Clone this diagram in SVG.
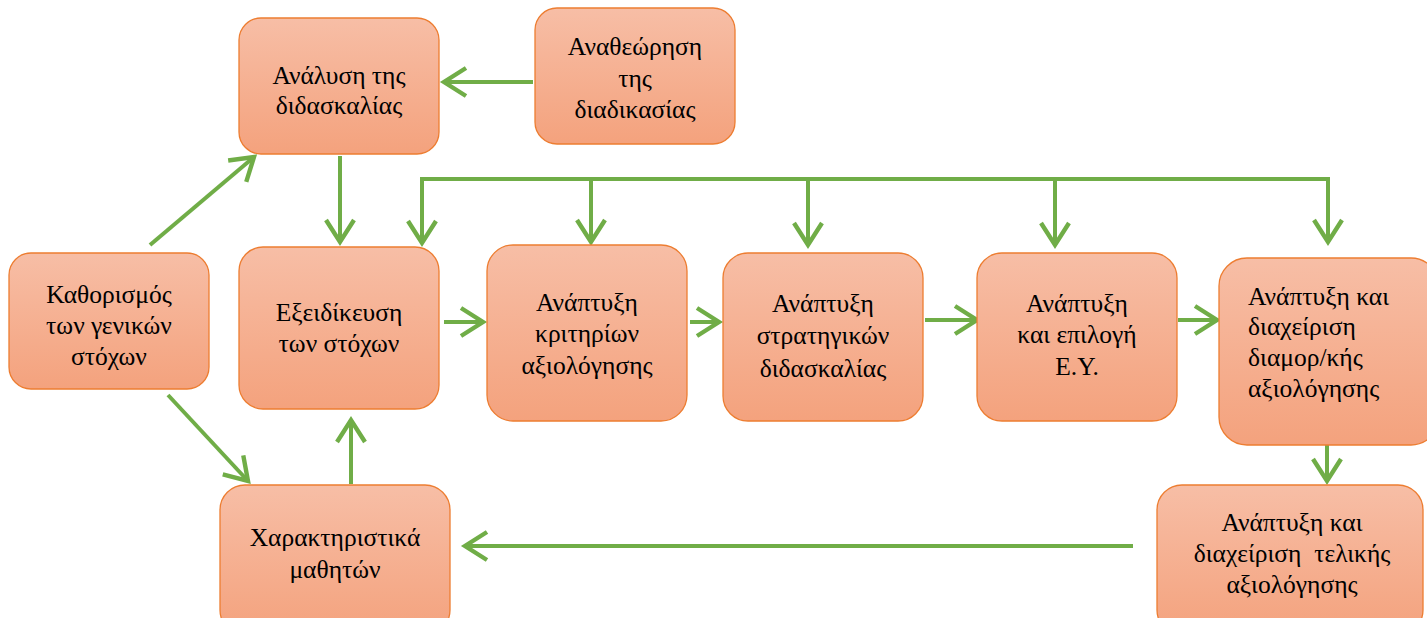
<svg xmlns="http://www.w3.org/2000/svg" width="1427" height="618" viewBox="0 0 1427 618">
<style>
.box{fill:url(#g);stroke:#ED7D31;stroke-width:1.3}
.c{fill:none;stroke:#70AD47;stroke-width:4;marker-end:url(#a)}
.b{fill:none;stroke:#70AD47;stroke-width:4}
</style>
<defs>
<linearGradient id="g" x1="0" y1="0" x2="0" y2="1">
<stop offset="0" stop-color="#F7BEA6"/>
<stop offset="1" stop-color="#F4A27D"/>
</linearGradient>
<marker id="a" markerWidth="8" markerHeight="8" refX="6.5" refY="4" orient="auto" markerUnits="strokeWidth" viewBox="0 0 8 8">
<path d="M1,0.5 L6.5,4 L1,7.5" fill="none" stroke="#70AD47" stroke-width="1.1"/>
</marker>
</defs>
<g id="connectors">
<path class="c" d="M533,82 H444"/>
<path class="c" d="M150,245 L254,157"/>
<path class="c" d="M168,395 L248,481"/>
<path class="c" d="M340,156 V242"/>
<path class="c" d="M351,484 V420"/>
<path class="b" d="M422,179 H1328"/>
<path class="c" d="M422,177 V243"/>
<path class="c" d="M591,179 V242"/>
<path class="c" d="M808,179 V245"/>
<path class="c" d="M1055,179 V245"/>
<path class="c" d="M1328,177 V242"/>
<path class="c" d="M444,322 H483"/>
<path class="c" d="M690,322 H719"/>
<path class="c" d="M925,320 H977"/>
<path class="c" d="M1178,320 H1217"/>
<path class="c" d="M1327,422 V481"/>
<path class="c" d="M1133,546 H465"/>
</g>
<g font-family="Times New Roman, Liberation Serif, DejaVu Serif, serif" font-size="25.5" fill="#000" text-anchor="middle">
<g id="n1"><rect class="box" x="9" y="253" width="200" height="136" rx="22"/>
<text x="109" y="303">Καθορισμός</text><text x="109" y="334">των γενικών</text><text x="109" y="365">στόχων</text></g>
<g id="n2"><rect class="box" x="239" y="18" width="200" height="136" rx="22"/>
<text x="339" y="84">Ανάλυση της</text><text x="339" y="114">διδασκαλίας</text></g>
<g id="n3"><rect class="box" x="535" y="8" width="200" height="136" rx="22"/>
<text x="635" y="55">Αναθεώρηση</text><text x="635" y="87">της</text><text x="635" y="118">διαδικασίας</text></g>
<g id="n4"><rect class="box" x="239" y="247" width="200" height="162" rx="24"/>
<text x="339" y="321">Εξειδίκευση</text><text x="339" y="352">των στόχων</text></g>
<g id="n5"><rect class="box" x="487" y="245" width="200" height="176" rx="26"/>
<text x="587" y="311">Ανάπτυξη</text><text x="587" y="342">κριτηρίων</text><text x="587" y="374">αξιολόγησης</text></g>
<g id="n6"><rect class="box" x="723" y="253" width="200" height="168" rx="25"/>
<text x="823" y="312">Ανάπτυξη</text><text x="823" y="344">στρατηγικών</text><text x="823" y="377">διδασκαλίας</text></g>
<g id="n7"><rect class="box" x="977" y="253" width="200" height="168" rx="25"/>
<text x="1077" y="312">Ανάπτυξη</text><text x="1077" y="343">και επιλογή</text><text x="1077" y="375">Ε.Υ.</text></g>
<g id="n8"><rect class="box" x="1219" y="258" width="220" height="187" rx="28"/>
<g text-anchor="start"><text x="1248" y="305">Ανάπτυξη και</text><text x="1248" y="335">διαχείριση</text><text x="1248" y="366">διαμορ/κής</text><text x="1248" y="397">αξιολόγησης</text></g></g>
<g id="n9"><rect class="box" x="1157" y="485" width="266" height="150" rx="25"/>
<text x="1292" y="531">Ανάπτυξη και</text><text x="1292" y="562" xml:space="preserve">διαχείριση  τελικής</text><text x="1292" y="593">αξιολόγησης</text></g>
<g id="n10"><rect class="box" x="220" y="485" width="230" height="150" rx="25"/>
<text x="335" y="546">Χαρακτηριστικά</text><text x="335" y="578">μαθητών</text></g>
</g>
</svg>
